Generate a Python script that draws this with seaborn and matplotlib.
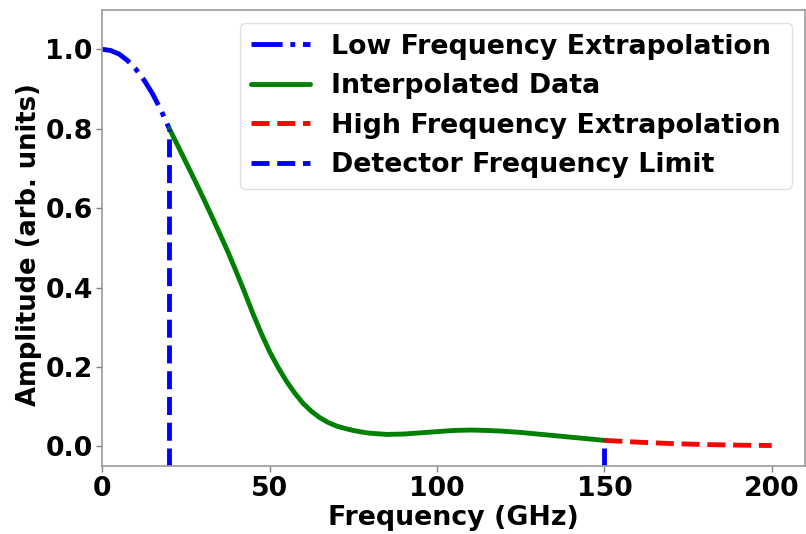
import matplotlib
matplotlib.use("Agg")
import matplotlib.pyplot as plt
import seaborn as sns

# Low frequency extrapolation (0-20 GHz)
low_freq = [0, 2.5, 5, 7.5, 10, 12.5, 15, 17.5, 20]
low_amp = [1.0, 0.997, 0.988, 0.972, 0.95, 0.922, 0.888, 0.847, 0.80]

# Interpolated data (20-150 GHz)
mid_freq = [20, 22.5, 25, 27.5, 30, 32.5, 35, 37.5, 40, 42.5, 45, 47.5, 50,
            52.5, 55, 57.5, 60, 62.5, 65, 67.5, 70, 72.5, 75, 77.5, 80, 85, 90,
            95, 100, 105, 110, 115, 120, 125, 130, 135, 140, 145, 150]
mid_amp = [0.800, 0.758, 0.715, 0.672, 0.628, 0.583, 0.537, 0.490, 0.440, 0.388,
           0.334, 0.284, 0.238, 0.199, 0.164, 0.134, 0.108, 0.088, 0.072, 0.060,
           0.051, 0.045, 0.040, 0.036, 0.033, 0.030, 0.031, 0.034, 0.037, 0.040,
           0.041, 0.040, 0.038, 0.035, 0.031, 0.027, 0.023, 0.019, 0.015]

# High frequency extrapolation (150-200 GHz)
high_freq = [150, 160, 170, 180, 190, 200]
high_amp = [0.015, 0.0105, 0.007, 0.0045, 0.003, 0.002]

# Detector frequency limits
limit_freq = [20, 150]
limit_top = [0.80, 0.015]

x_ticks = [0, 50, 100, 150, 200]
y_ticks = [0.0, 0.2, 0.4, 0.6, 0.8, 1.0]

sns.set_style("white")
plt.rcParams["font.family"] = ["DejaVu Sans"]
plt.rcParams["font.weight"] = "bold"
plt.rcParams["text.color"] = "black"
plt.rcParams["axes.labelcolor"] = "black"
plt.rcParams["xtick.color"] = "black"
plt.rcParams["ytick.color"] = "black"

FS = 19.3

fig = plt.figure(figsize=(8.06, 5.34), dpi=100)
ax = fig.add_axes([0.127, 0.127, 0.872, 0.855])

lw = 3.5
sns.lineplot(x=low_freq, y=low_amp, ax=ax, color="blue", linestyle="-.", lw=lw,
             label="Low Frequency Extrapolation")
sns.lineplot(x=mid_freq, y=mid_amp, ax=ax, color="green", linestyle="-", lw=lw,
             label="Interpolated Data")
sns.lineplot(x=high_freq, y=high_amp, ax=ax, color="red", linestyle="--", lw=lw,
             label="High Frequency Extrapolation")
ymin = -0.05
for i, (f, t) in enumerate(zip(limit_freq, limit_top)):
    sns.lineplot(x=[f, f], y=[ymin, t], ax=ax, color="blue", linestyle="--", lw=lw,
                 estimator=None, sort=False,
                 label="Detector Frequency Limit" if i == 0 else None)

ax.set_xlim(0, 210)
ax.set_ylim(-0.05, 1.1)
ax.set_xticks(x_ticks)
ax.set_yticks(y_ticks)
ax.set_xticklabels([str(v) for v in x_ticks], fontsize=FS, fontweight="bold")
ax.set_yticklabels([f"{v:.1f}" for v in y_ticks], fontsize=FS, fontweight="bold")
ax.tick_params(axis="both", length=4, width=1, color="0.5", pad=3, direction="out",
               bottom=True, left=True, labelcolor="black")
ax.set_xlabel("Frequency (GHz)", fontsize=FS, fontweight="bold", labelpad=2,
              color="black")
ax.set_ylabel("Amplitude (arb. units)", fontsize=18.6, fontweight="bold",
              color="black")
ax.yaxis.set_label_coords(-0.086, 0.485)
for s in ax.spines.values():
    s.set_color("0.6")
    s.set_linewidth(1.2)

leg = ax.legend(loc="upper right", prop={"weight": "bold", "size": FS},
                frameon=True, handlelength=2.2)
leg.get_frame().set_edgecolor("0.85")
for t in leg.get_texts():
    t.set_color("black")

fig.savefig("out.png", dpi=100)
